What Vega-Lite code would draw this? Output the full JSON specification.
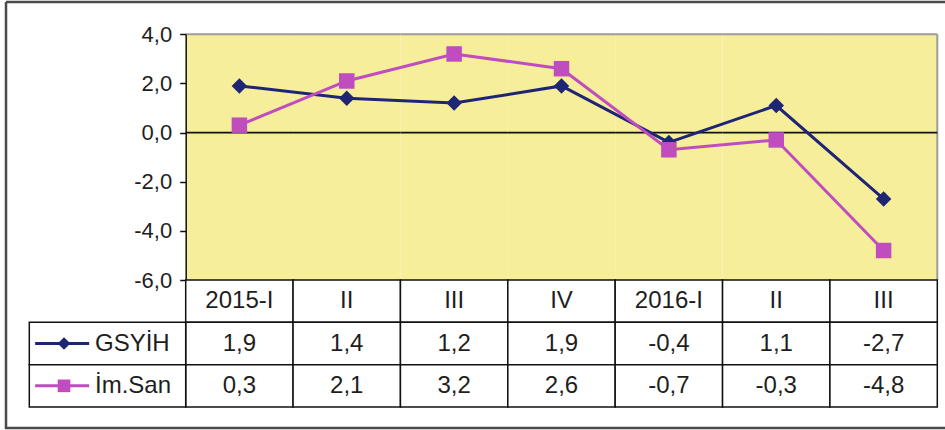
{
  "$schema": "https://vega.github.io/schema/vega-lite/v6.json",
  "width": 939,
  "height": 426,
  "autosize": {"type": "none"},
  "padding": {"left": 6, "top": 2, "right": 0, "bottom": 2},
  "background": "white",
  "config": {
    "view": {"stroke": "#4a4a4a", "strokeWidth": 2.5, "strokeDash": [939, 426, 1365, 0]},
    "locale": {"number": {"decimal": ",", "thousands": ".", "grouping": [3], "currency": ["", ""], "minus": "-"}},
    "font": "Liberation Sans",
    "text": {"font": "Liberation Sans", "fontSize": 24, "color": "#1e1e1e"}
  },
  "datasets": {
    "values": [
      {"q": "2015-I", "series": "GSYİH", "value": 1.9},
      {"q": "2015-II", "series": "GSYİH", "value": 1.4},
      {"q": "2015-III", "series": "GSYİH", "value": 1.2},
      {"q": "2015-IV", "series": "GSYİH", "value": 1.9},
      {"q": "2016-I", "series": "GSYİH", "value": -0.4},
      {"q": "2016-II", "series": "GSYİH", "value": 1.1},
      {"q": "2016-III", "series": "GSYİH", "value": -2.7},
      {"q": "2015-I", "series": "İm.San", "value": 0.3},
      {"q": "2015-II", "series": "İm.San", "value": 2.1},
      {"q": "2015-III", "series": "İm.San", "value": 3.2},
      {"q": "2015-IV", "series": "İm.San", "value": 2.6},
      {"q": "2016-I", "series": "İm.San", "value": -0.7},
      {"q": "2016-II", "series": "İm.San", "value": -0.3},
      {"q": "2016-III", "series": "İm.San", "value": -4.8}
    ],
    "quarters": [
      {"q": "2015-I", "label": "2015-I"},
      {"q": "2015-II", "label": "II"},
      {"q": "2015-III", "label": "III"},
      {"q": "2015-IV", "label": "IV"},
      {"q": "2016-I", "label": "2016-I"},
      {"q": "2016-II", "label": "II"},
      {"q": "2016-III", "label": "III"}
    ],
    "series": [
      {"series": "GSYİH"},
      {"series": "İm.San"}
    ]
  },
  "resolve": {"scale": {"x": "independent", "y": "independent"}},
  "layer": [
    {
      "layer": [
        {
          "data": {"name": "quarters"},
          "mark": {"type": "bar", "fill": "#F6EE9A", "strokeWidth": 0},
          "encoding": {
            "x": {"field": "q", "type": "nominal", "axis": null,
                  "scale": {"type": "band", "domain": ["2015-I","2015-II","2015-III","2015-IV","2016-I","2016-II","2016-III"], "range": [179.7, 931.3], "paddingInner": 0, "paddingOuter": 0}},
            "y": {"datum": 4, "type": "quantitative",
                  "scale": {"type": "linear", "domain": [-6, 4], "range": [278, 32.3], "nice": false, "zero": false}},
            "y2": {"datum": -6}
          }
        },
        {
          "data": {"name": "quarters"},
          "mark": {"type": "bar", "fill": null, "stroke": "#9c9c9c", "strokeWidth": 2},
          "encoding": {
            "x": {"field": "q", "type": "nominal"},
            "y": {"datum": 4, "type": "quantitative"},
            "y2": {"datum": 4}
          }
        },
        {
          "data": {"name": "quarters"},
          "transform": [{"filter": "datum.q === '2016-III'"}],
          "mark": {"type": "rule", "color": "#9c9c9c", "strokeWidth": 2},
          "encoding": {
            "x": {"field": "q", "type": "nominal", "bandPosition": 1},
            "y": {"datum": 4, "type": "quantitative"},
            "y2": {"datum": -6}
          }
        },
        {
          "data": {"name": "quarters"},
          "mark": {"type": "bar", "fill": null, "stroke": "#111111", "strokeWidth": 1.8},
          "encoding": {
            "x": {"field": "q", "type": "nominal"},
            "y": {"datum": 0, "type": "quantitative"},
            "y2": {"datum": 0}
          }
        },
        {
          "data": {"name": "values"},
          "mark": {"type": "line", "strokeWidth": 3},
          "encoding": {
            "x": {"field": "q", "type": "nominal"},
            "y": {"field": "value", "type": "quantitative",
                  "axis": {"title": null, "values": [-6, -4, -2, 0, 2, 4], "format": ".1f", "offset": -179.7, "zindex": 2,
                           "labelFont": "Liberation Sans", "labelFontSize": 22, "labelColor": "#1e1e1e", "labelPadding": 8,
                           "tickSize": 6, "tickColor": "#111111", "tickWidth": 1.5, "domainColor": "#111111", "domainWidth": 1.5, "grid": false}},
            "color": {"field": "series", "type": "nominal", "legend": null,
                      "scale": {"domain": ["GSYİH", "İm.San"], "range": ["#1F2575", "#C04DBF"]}}
          }
        },
        {
          "data": {"name": "values"},
          "mark": {"type": "point", "filled": true, "opacity": 1, "size": 240},
          "encoding": {
            "x": {"field": "q", "type": "nominal"},
            "y": {"field": "value", "type": "quantitative"},
            "color": {"field": "series", "type": "nominal", "legend": null},
            "shape": {"field": "series", "type": "nominal", "legend": null,
                      "scale": {"domain": ["GSYİH", "İm.San"], "range": ["diamond", "square"]}}
          }
        }
      ]
    },
    {
      "layer": [
        {
          "data": {"name": "quarters"},
          "mark": {"type": "rect", "fill": "white", "stroke": "#111111", "strokeWidth": 1.5},
          "encoding": {
            "x": {"field": "q", "type": "nominal", "axis": null,
                  "scale": {"type": "band", "domain": ["2015-I","2015-II","2015-III","2015-IV","2016-I","2016-II","2016-III"], "range": [179.7, 931.3], "paddingInner": 0, "paddingOuter": 0}},
            "y": {"datum": "hdr", "type": "nominal", "axis": null,
                  "scale": {"type": "band", "domain": ["hdr", "GSYİH", "İm.San"], "range": [278, 405], "paddingInner": 0, "paddingOuter": 0}}
          }
        },
        {
          "data": {"name": "values"},
          "mark": {"type": "rect", "fill": "white", "stroke": "#111111", "strokeWidth": 1.5},
          "encoding": {
            "x": {"field": "q", "type": "nominal"},
            "y": {"field": "series", "type": "nominal"}
          }
        },
        {
          "data": {"name": "quarters"},
          "mark": {"type": "text", "align": "center", "baseline": "middle"},
          "encoding": {
            "x": {"field": "q", "type": "nominal"},
            "y": {"datum": "hdr", "type": "nominal"},
            "text": {"field": "label"}
          }
        },
        {
          "data": {"name": "values"},
          "mark": {"type": "text", "align": "center", "baseline": "middle"},
          "encoding": {
            "x": {"field": "q", "type": "nominal"},
            "y": {"field": "series", "type": "nominal"},
            "text": {"field": "value", "type": "quantitative", "format": ".1f"}
          }
        }
      ]
    },
    {
      "data": {"name": "series"},
      "layer": [
        {
          "mark": {"type": "rect", "fill": "white", "stroke": "#111111", "strokeWidth": 1.5},
          "encoding": {
            "x": {"datum": 0, "type": "quantitative", "axis": null,
                  "scale": {"type": "linear", "domain": [0, 1], "range": [23.3, 179.7], "nice": false, "zero": false}},
            "x2": {"datum": 1},
            "y": {"field": "series", "type": "nominal", "axis": null,
                  "scale": {"type": "band", "domain": ["hdr", "GSYİH", "İm.San"], "range": [278, 405], "paddingInner": 0, "paddingOuter": 0}}
          }
        },
        {
          "mark": {"type": "tick", "orient": "horizontal", "thickness": 3, "size": 54, "opacity": 1},
          "encoding": {
            "x": {"datum": 0.21, "type": "quantitative"},
            "y": {"field": "series", "type": "nominal"},
            "color": {"field": "series", "type": "nominal", "legend": null}
          }
        },
        {
          "mark": {"type": "point", "filled": true, "opacity": 1, "size": 160},
          "encoding": {
            "x": {"datum": 0.222, "type": "quantitative"},
            "y": {"field": "series", "type": "nominal"},
            "color": {"field": "series", "type": "nominal", "legend": null},
            "shape": {"field": "series", "type": "nominal", "legend": null}
          }
        },
        {
          "mark": {"type": "text", "align": "left", "baseline": "middle"},
          "encoding": {
            "x": {"datum": 0.42, "type": "quantitative"},
            "y": {"field": "series", "type": "nominal"},
            "text": {"field": "series"}
          }
        }
      ]
    }
  ]
}
